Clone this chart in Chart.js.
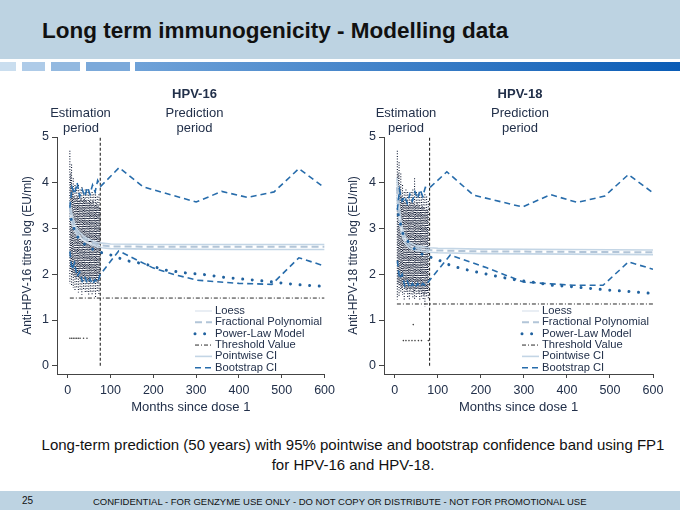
<!DOCTYPE html>
<html>
<head>
<meta charset="utf-8">
<script src="https://cdn.jsdelivr.net/npm/chart.js@4.4.1/dist/chart.umd.min.js"></script>
<style>
  body { margin: 0; width: 680px; height: 510px; overflow: hidden; background: #fff; position: relative;
         font-family: "Liberation Sans", Arial, sans-serif; }
  .abs { position: absolute; }
  .lbl { position: absolute; transform: translate(-50%, -50%); line-height: 1; font-size: 13px;
         color: #22304a; white-space: nowrap; z-index: 2; }
  .bar { position: absolute; top: 62px; height: 9px; }
  canvas { position: absolute; top: 80px; }
</style>
</head>
<body>

<div class="abs" style="left:0;top:0;width:680px;height:59px;background:#bdd3e2"></div>
<div class="abs" style="left:42px;top:20px;font-size:22.5px;line-height:22px;font-weight:bold;color:#111;white-space:nowrap">Long term immunogenicity - Modelling data</div>
<div class="bar" style="left:0;width:16px;background:#cadeef"></div>
<div class="bar" style="left:22px;width:23px;background:#aecbe8"></div>
<div class="bar" style="left:51px;width:29px;background:#93b9e0"></div>
<div class="bar" style="left:86px;width:44px;background:#7ba9da"></div>
<div class="bar" style="left:135px;width:545px;background:linear-gradient(to right,#6fa2d8,#0a5cb6)"></div>

<div class="lbl" style="left:194.5px;top:93px;font-weight:bold">HPV-16</div>
<div class="lbl" style="left:80.5px;top:111.5px">Estimation</div>
<div class="lbl" style="left:81px;top:127px">period</div>
<div class="lbl" style="left:194.5px;top:111.5px">Prediction</div>
<div class="lbl" style="left:194.5px;top:127px">period</div>

<div class="lbl" style="left:520px;top:93px;font-weight:bold">HPV-18</div>
<div class="lbl" style="left:406px;top:111.5px">Estimation</div>
<div class="lbl" style="left:406px;top:127px">period</div>
<div class="lbl" style="left:520px;top:111.5px">Prediction</div>
<div class="lbl" style="left:520px;top:127px">period</div>

<canvas id="c16" width="340" height="340" style="left:0"></canvas>
<canvas id="c18" width="340" height="340" style="left:340px"></canvas>

<div class="abs" style="left:30px;top:435px;width:646px;text-align:center;font-size:15px;line-height:19.5px;color:#111;white-space:nowrap">Long-term prediction (50 years) with 95% pointwise and bootstrap confidence band using FP1<br>for HPV-16 and HPV-18.</div>

<div class="abs" style="left:0;top:491px;width:680px;height:19px;background:#bdd3e2"></div>
<div class="abs" style="left:22px;top:495px;font-size:10px;line-height:12px;color:#111">25</div>
<div class="abs" style="left:93px;top:495.5px;font-size:9.5px;line-height:12px;color:#111;white-space:nowrap">CONFIDENTIAL - FOR GENZYME USE ONLY - DO NOT COPY OR DISTRIBUTE - NOT FOR PROMOTIONAL USE</div>

<script>
// axes
const xTicks = [0, 100, 200, 300, 400, 500, 600];
const yTicks = [0, 1, 2, 3, 4, 5];

// ---- HPV-16 ----
// observed titres, drawn as dotted columns per visit month (top / bottom of the cloud)
const obsMonths16 = [5, 9, 13, 17, 21, 25, 29, 33, 37, 41, 45, 49, 53, 57, 61, 65, 69, 73];
const obsTop16    = [4.7, 4.4, 4.1, 3.95, 3.9, 3.95, 3.85, 3.9, 3.8, 3.85, 3.8, 3.85, 3.75, 3.8, 3.75, 3.8, 3.7, 3.75];
const obsBot16    = [1.8, 1.75, 1.7, 1.65, 1.7, 1.6, 1.65, 1.55, 1.65, 1.6, 1.6, 1.55, 1.6, 1.55, 1.6, 1.5, 1.6, 1.55];
const coreMonths16 = [7, 11, 15, 19, 23, 27, 31, 35, 39, 43, 47, 51, 55, 59, 63, 67, 71, 75];
const coreTop16    = [4.2, 3.9, 3.7, 3.65, 3.7, 3.6, 3.65, 3.6, 3.65, 3.6, 3.55, 3.6, 3.55, 3.6, 3.5, 3.55, 3.5, 3.45];
const coreBot16    = [2.1, 2.0, 1.95, 1.9, 1.95, 1.9, 1.85, 1.9, 1.85, 1.9, 1.85, 1.8, 1.9, 1.85, 1.8, 1.85, 1.8, 1.9];
const lowX16 = [5, 9, 13, 17, 21, 25, 29, 37, 45, 76];
const lowY16 = [0.6, 0.6, 0.6, 0.6, 0.6, 0.6, 0.6, 0.6, 0.6, 0.6];

const loessX16 = [5, 10, 20, 30, 40, 50, 60, 70, 76];
const loessY16 = [3.4, 3.15, 2.95, 2.8, 2.72, 2.68, 2.66, 2.64, 2.63];
const fpX16   = [5, 10, 17, 25, 36, 47, 57, 70, 80, 100, 200, 400, 600];
const fpY16   = [3.45, 3.2, 3.0, 2.88, 2.79, 2.73, 2.69, 2.65, 2.63, 2.61, 2.6, 2.6, 2.6];
const ciUp16  = [3.6, 3.3, 3.07, 2.94, 2.84, 2.77, 2.73, 2.69, 2.68, 2.66, 2.65, 2.65, 2.65];
const ciLo16  = [3.3, 3.1, 2.93, 2.82, 2.74, 2.68, 2.64, 2.6, 2.58, 2.56, 2.55, 2.54, 2.54];
const plX16 = [8, 20, 40, 60, 80, 92, 136, 182, 228, 275, 322, 368, 415, 462, 508, 555, 590];
const plY16 = [3.2, 2.85, 2.65, 2.54, 2.47, 2.45, 2.3, 2.22, 2.09, 2.03, 1.99, 1.93, 1.89, 1.85, 1.8, 1.76, 1.74];
const bootUpX16 = [5, 10, 16, 22, 28, 34, 40, 46, 52, 58, 64, 70, 77, 120, 176, 300, 360, 420, 482, 540, 600];
const bootUpY16 = [3.45, 3.9, 3.75, 4.0, 3.7, 3.85, 3.7, 3.9, 3.75, 3.95, 3.8, 4.05, 3.92, 4.33, 3.91, 3.58, 3.81, 3.68, 3.8, 4.31, 3.89];
const bootLoX16 = [5, 10, 16, 22, 28, 34, 40, 46, 52, 58, 64, 70, 75, 119, 199, 250, 303, 400, 477, 540, 600];
const bootLoY16 = [2.5, 2.1, 2.25, 1.95, 2.05, 1.85, 1.95, 1.8, 1.9, 1.78, 1.88, 1.82, 1.98, 2.51, 2.14, 1.99, 1.87, 1.8, 1.78, 2.36, 2.18];
const threshold16 = 1.48;
const cutoff16 = 76;

// ---- HPV-18 ----
const obsMonths18 = [6, 10, 14, 18, 22, 26, 30, 34, 38, 42, 46, 50, 54, 58, 62, 66, 70, 74, 78];
const obsTop18    = [4.7, 4.45, 4.2, 3.95, 3.8, 3.85, 3.8, 3.75, 3.8, 3.85, 4.1, 3.8, 3.75, 3.8, 3.75, 3.7, 3.75, 3.7, 3.6];
const obsBot18    = [1.45, 1.5, 1.6, 1.55, 1.45, 1.6, 1.5, 1.45, 1.55, 1.5, 1.45, 1.5, 1.55, 1.45, 1.5, 1.45, 1.3, 1.5, 1.45];
const coreMonths18 = [8, 12, 16, 20, 24, 28, 32, 36, 40, 44, 48, 52, 56, 60, 64, 68, 72, 76];
const coreTop18    = [4.2, 3.9, 3.7, 3.6, 3.55, 3.6, 3.5, 3.55, 3.6, 3.55, 3.5, 3.55, 3.5, 3.45, 3.5, 3.45, 3.4, 3.4];
const coreBot18    = [1.8, 1.75, 1.7, 1.75, 1.7, 1.65, 1.7, 1.65, 1.7, 1.6, 1.65, 1.7, 1.6, 1.65, 1.6, 1.55, 1.6, 1.6];
const lowX18 = [20, 26, 33, 40, 43, 47, 55, 62, 78];
const lowY18 = [0.55, 0.55, 0.55, 0.55, 0.9, 0.55, 0.55, 0.55, 0.55];

const loessX18 = [6, 10, 15, 20, 30, 40, 50, 60, 70, 78];
const loessY18 = [3.8, 3.3, 3.0, 2.83, 2.67, 2.6, 2.57, 2.55, 2.54, 2.53];
const fpX18   = [5, 10, 15, 20, 25, 35, 50, 80, 100, 200, 400, 600];
const fpY18   = [3.9, 3.35, 3.02, 2.85, 2.73, 2.63, 2.57, 2.53, 2.52, 2.5, 2.49, 2.48];
const ciUp18  = [4.1, 3.5, 3.12, 2.93, 2.8, 2.69, 2.62, 2.58, 2.57, 2.55, 2.54, 2.53];
const ciLo18  = [3.7, 3.2, 2.92, 2.77, 2.66, 2.57, 2.52, 2.48, 2.47, 2.45, 2.44, 2.43];
const plX18 = [8, 20, 40, 60, 80, 92, 133, 179, 225, 272, 318, 364, 410, 456, 503, 549, 600];
const plY18 = [3.3, 2.85, 2.6, 2.45, 2.38, 2.35, 2.18, 2.07, 1.98, 1.89, 1.83, 1.76, 1.73, 1.69, 1.65, 1.62, 1.58];
const bootUpX18 = [6, 11, 17, 23, 29, 35, 41, 47, 53, 59, 65, 71, 81, 121, 183, 297, 362, 424, 488, 543, 600];
const bootUpY18 = [3.4, 3.85, 3.6, 3.7, 3.55, 3.75, 3.6, 3.8, 3.65, 3.85, 3.7, 3.9, 3.89, 4.24, 3.73, 3.47, 3.74, 3.57, 3.71, 4.18, 3.78];
const bootLoX18 = [6, 11, 17, 23, 29, 35, 41, 47, 53, 59, 65, 71, 81, 129, 214, 299, 415, 484, 543, 600];
const bootLoY18 = [2.3, 1.9, 2.0, 1.75, 1.85, 1.7, 1.8, 1.7, 1.8, 1.72, 1.8, 1.75, 1.87, 2.42, 2.14, 1.83, 1.76, 1.76, 2.27, 2.11];
const threshold18 = 1.35;
const cutoff18 = 81;

const TEXT = '#22304a';
const FONT = '"Liberation Sans", Arial, sans-serif';

const pts = (xs, ys) => xs.map((x, i) => ({ x, y: ys[i] }));
const columns = (ms, tops, bots) => ms.flatMap((m, i) => [{ x: m, y: tops[i] }, { x: m, y: bots[i] }, { x: m, y: null }]);

// legend drawn inside the plot area, lower right
const insideLegend = {
  id: 'insideLegend',
  afterDraw(chart, args, opts) {
    const ctx = chart.ctx;
    ctx.save();
    ctx.font = '11.2px ' + FONT;
    ctx.textBaseline = 'middle';
    let y = opts.y;
    chart.data.datasets.filter(d => d.legendText).forEach(d => {
      ctx.beginPath();
      ctx.setLineDash(d.borderDash || []);
      ctx.lineCap = d.borderCapStyle || 'butt';
      ctx.strokeStyle = d.borderColor;
      ctx.lineWidth = d.borderWidth;
      ctx.moveTo(opts.x, y);
      ctx.lineTo(opts.x + 17, y);
      ctx.stroke();
      ctx.setLineDash([]);
      ctx.fillStyle = TEXT;
      ctx.fillText(d.legendText, opts.x + 20, y);
      y += 11.35;
    });
    ctx.restore();
  }
};

function makePanel(id, p) {
  const line = (data, color, width, dash, order, extra) => Object.assign({
    data, borderColor: color, borderWidth: width, borderDash: dash, order,
    pointRadius: 0, fill: false, tension: 0
  }, extra || {});

  const datasets = [
    line(pts(p.loessX, p.loessY), '#e2e9f1', 1.5, [], 3, { legendText: 'Loess' }),
    line(pts(p.fpX, p.fpY), '#b2c5d8', 2, [7, 4], 2, { legendText: 'Fractional Polynomial' }),
    line(pts(p.plX, p.plY), '#21629f', 3, [0.01, 9.6], 0, { legendText: 'Power-Law Model', borderCapStyle: 'round' }),
    line(pts([5, 600], [p.thr, p.thr]), '#2a2a2a', 1, [4, 2, 1, 2], 4, { legendText: 'Threshold Value' }),
    line(pts(p.fpX, p.ciUp), '#c3d5e5', 1.6, [], 3, { legendText: 'Pointwise CI' }),
    line(pts(p.bootUpX, p.bootUpY), '#276cab', 1.6, [6, 4], 1, { legendText: 'Bootstrap CI' }),
    line(pts(p.fpX, p.ciLo), '#c3d5e5', 1.6, [], 3),
    line(pts(p.bootLoX, p.bootLoY), '#276cab', 1.6, [6, 4], 1),
    line(pts([p.cut, p.cut], [0, 5]), '#111', 1, [3, 2], 4),
    line(columns(p.obsM, p.obsT, p.obsB), '#101a33', 1.1, [1, 1.6], 5, { spanGaps: false }),
    line(columns(p.coreM, p.coreT, p.coreB), '#101a33', 1.1, [1, 1.1], 5, { spanGaps: false }),
    { data: pts(p.lowX, p.lowY), showLine: false, pointRadius: 0.8, pointBorderWidth: 0,
      pointBackgroundColor: '#444', order: 5 }
  ];

  new Chart(document.getElementById(id), {
    type: 'line',
    data: { datasets },
    plugins: [insideLegend],
    options: {
      responsive: false,
      animation: false,
      devicePixelRatio: 1,
      layout: { padding: { top: 57, right: p.padRight, left: 0, bottom: 0 } },
      plugins: {
        legend: { display: false },
        tooltip: { enabled: false },
        insideLegend: { x: p.legX, y: 231 }
      },
      scales: {
        x: {
          type: 'linear', min: -25, max: 600,
          afterBuildTicks: s => { s.ticks = xTicks.map(v => ({ value: v })); },
          afterFit: s => { s.height = 46; },
          grid: { drawOnChartArea: false, drawTicks: true, tickLength: 4, color: '#444' },
          border: { display: true, color: '#444', width: 1 },
          ticks: { color: TEXT, font: { family: FONT, size: 12.5 }, padding: 5, maxRotation: 0 },
          title: { display: true, text: 'Months since dose 1', color: TEXT,
                   font: { family: FONT, size: 13 }, padding: { top: 0, bottom: 4.9 } }
        },
        y: {
          type: 'linear', min: -0.18, max: 5,
          afterBuildTicks: s => { s.ticks = yTicks.map(v => ({ value: v })); },
          afterFit: s => { s.width = p.yWidth; },
          grid: { drawOnChartArea: false, drawTicks: true, tickLength: 5, color: '#444' },
          border: { display: true, color: '#444', width: 1 },
          ticks: { color: TEXT, font: { family: FONT, size: 12.5 }, padding: 3 },
          title: { display: true, text: p.yTitle, color: TEXT,
                   font: { family: FONT, size: 12 }, padding: { top: p.yTitlePad, bottom: 0 } }
        }
      }
    }
  });
}

makePanel('c16', {
  obsM: obsMonths16, obsT: obsTop16, obsB: obsBot16,
  coreM: coreMonths16, coreT: coreTop16, coreB: coreBot16,
  lowX: lowX16, lowY: lowY16,
  loessX: loessX16, loessY: loessY16, fpX: fpX16, fpY: fpY16, ciUp: ciUp16, ciLo: ciLo16,
  plX: plX16, plY: plY16, bootUpX: bootUpX16, bootUpY: bootUpY16, bootLoX: bootLoX16, bootLoY: bootLoY16,
  thr: threshold16, cut: cutoff16,
  yTitle: 'Anti-HPV-16 titres log (EU/ml)', yWidth: 57, yTitlePad: 20, padRight: 14, legX: 195
});

makePanel('c18', {
  obsM: obsMonths18, obsT: obsTop18, obsB: obsBot18,
  coreM: coreMonths18, coreT: coreTop18, coreB: coreBot18,
  lowX: lowX18, lowY: lowY18,
  loessX: loessX18, loessY: loessY18, fpX: fpX18, fpY: fpY18, ciUp: ciUp18, ciLo: ciLo18,
  plX: plX18, plY: plY18, bootUpX: bootUpX18, bootUpY: bootUpY18, bootLoX: bootLoX18, bootLoY: bootLoY18,
  thr: threshold18, cut: cutoff18,
  yTitle: 'Anti-HPV-18 titres log (EU/ml)', yWidth: 44, yTitlePad: 6, padRight: 27, legX: 182
});
</script>
</body>
</html>
